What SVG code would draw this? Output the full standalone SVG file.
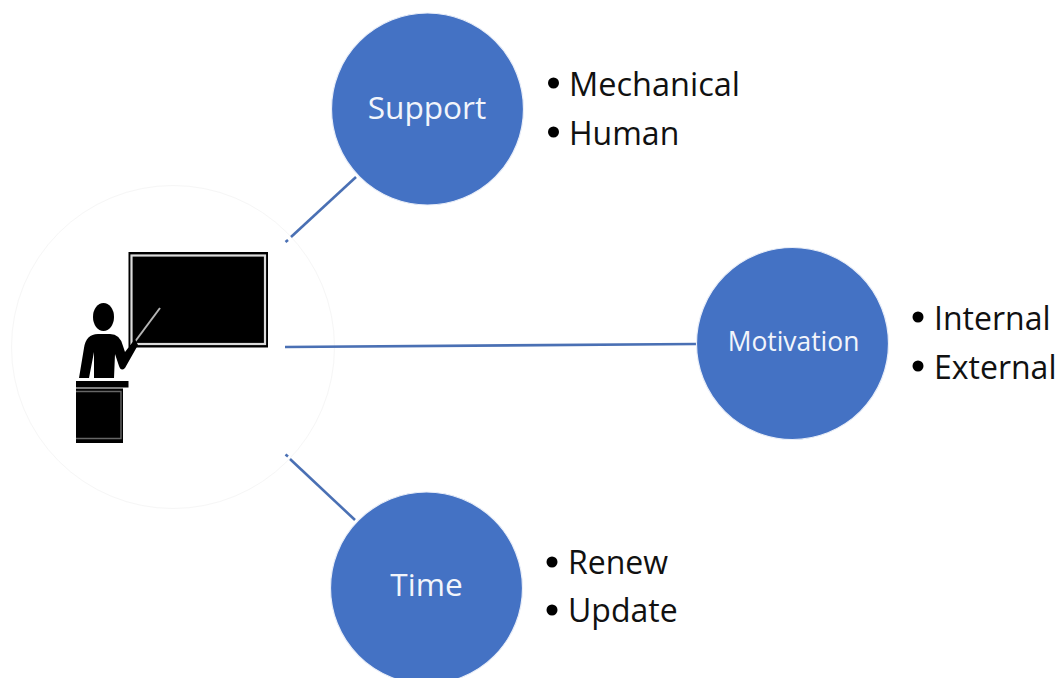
<svg xmlns="http://www.w3.org/2000/svg" width="1058" height="678" viewBox="0 0 1058 678">
<style>
.hub{fill:#4472c4;stroke:#e9eef8;stroke-width:1.2}
.lbl{font-family:"Open Sans","Noto Sans","Liberation Sans",sans-serif;fill:#f2f5fb;text-anchor:middle}
.item{font-family:"Open Sans","Noto Sans","Liberation Sans",sans-serif;font-size:32px;fill:#111}
.dot{fill:#000}
.conn{stroke:#4a70b4;stroke-width:2.6;fill:none}
</style>
<rect width="1058" height="678" fill="#fff"/>
<g id="teacher">
<circle cx="173" cy="347" r="161.500" fill="#fff" stroke="#f6f6f6" stroke-width="1"/>
<rect x="128.500" y="252" width="139.500" height="95.500" fill="#000"/>
<rect x="131.500" y="255.500" width="133.500" height="88.500" fill="none" stroke="#dcdcdc" stroke-width="2.200"/>
<line x1="134" y1="343" x2="160" y2="308" stroke="#b5b5b5" stroke-width="2"/>
<ellipse cx="103.500" cy="317" rx="10.500" ry="14" fill="#000"/>
<path d="M79 378 L84 348 Q86 334 98 334 L110 334 Q120 334 123 346 L125 352 L135 339 L138 345 L125 368 Q121 372 119 366 L115 354 L114 378 L94 378 L94 352 L89 378 Z" fill="#000"/>
<rect x="76" y="381" width="52.500" height="6.500" fill="#000"/>
<rect x="76" y="388.500" width="47" height="54.500" fill="#000"/>
<path d="M76 391.500 H121 V438.500 H76" fill="none" stroke="#666" stroke-width="1.400"/>
</g>
<g id="connectors">
<line class="conn" x1="356" y1="177" x2="291" y2="237"/>
<line class="conn" x1="288" y1="240" x2="285.500" y2="242"/>
<line class="conn" x1="285" y1="347" x2="696" y2="344"/>
<line class="conn" x1="355" y1="520" x2="290" y2="459"/>
<line class="conn" x1="288" y1="456.500" x2="285.500" y2="454.500"/>
</g>
<g id="support">
<circle class="hub" cx="427.500" cy="109" r="96"/>
<text class="lbl" x="427" y="119" font-size="31.600">Support</text>
<circle class="dot" cx="553.500" cy="83" r="5.500"/><text class="item" x="569" y="96" font-size="32.500" style="font-size:32.500px">Mechanical</text>
<circle class="dot" cx="553.500" cy="132" r="5.500"/><text class="item" x="569" y="145">Human</text>
</g>
<g id="motivation">
<circle class="hub" cx="792.500" cy="343.500" r="96"/>
<text class="lbl" x="793.500" y="351" font-size="26.400">Motivation</text>
<circle class="dot" cx="918" cy="317" r="5.500"/><text class="item" x="934" y="330">Internal</text>
<circle class="dot" cx="918" cy="366" r="5.500"/><text class="item" x="934" y="379">External</text>
</g>
<g id="time">
<circle class="hub" cx="426.500" cy="588" r="96"/>
<text class="lbl" x="426.500" y="596" font-size="31.600">Time</text>
<circle class="dot" cx="552" cy="562" r="5.500"/><text class="item" x="568" y="574">Renew</text>
<circle class="dot" cx="552" cy="610" r="5.500"/><text class="item" x="568" y="622">Update</text>
</g>
</svg>
